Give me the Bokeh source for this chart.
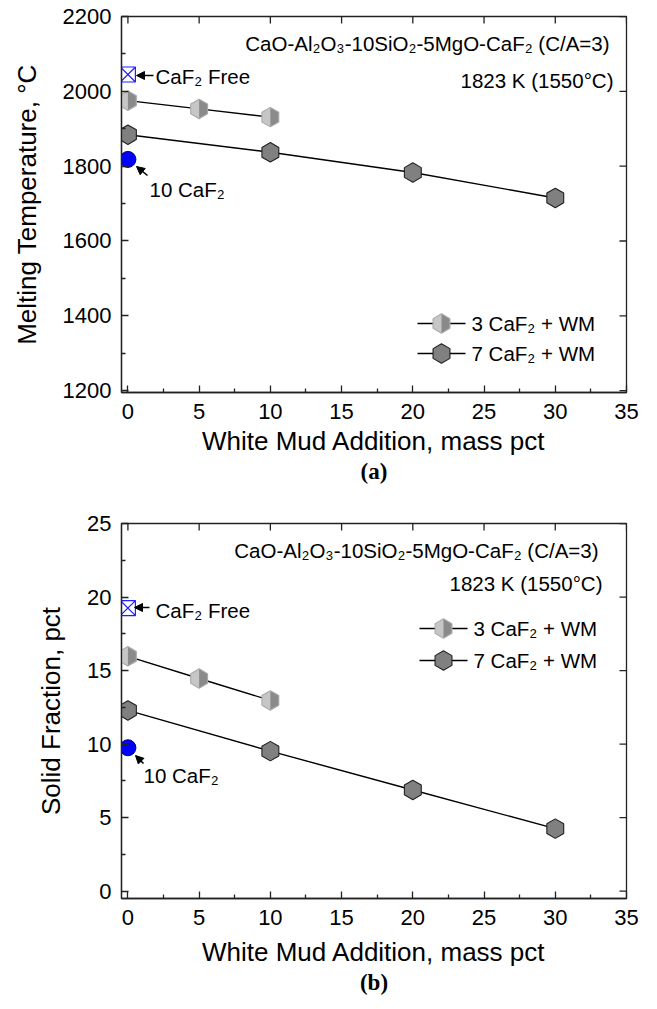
import math
from bokeh.plotting import figure
from bokeh.models import FixedTicker, Range1d, Label, Arrow, NormalHead, Title
from bokeh.layouts import column
from bokeh.embed import file_html
from bokeh.resources import INLINE

# ---------------- data ----------------
wm_3 = [0, 5, 10]
wm_7 = [0, 10, 20, 30]
wm_single = [0]

tm_3 = [1975, 1953, 1931]
tm_7 = [1884, 1837, 1783, 1715]
tm_free = [2045]
tm_10 = [1818]

sf_3 = [15.97, 14.46, 12.97]
sf_7 = [12.29, 9.52, 6.88, 4.25]
sf_free = [19.25]
sf_10 = [9.75]

x_ticks = [0, 5, 10, 15, 20, 25, 30, 35]
tm_ticks = [1200, 1400, 1600, 1800, 2000, 2200]
sf_ticks = [0, 5, 10, 15, 20, 25]

label_3 = "3 CaF\u2082 + WM"
label_7 = "7 CaF\u2082 + WM"
label_free = "CaF\u2082 Free"
label_10 = "10 CaF\u2082"
label_comp = "CaO-Al\u2082O\u2083-10SiO\u2082-5MgO-CaF\u2082 (C/A=3)"
label_temp = "1823 K (1550\u00b0C)"

# ---------------- style ----------------
FONT = "Liberation Sans"
AX_COLOR = "#222222"
LIGHT = "#c6c6c6"
LIGHT_EDGE = "#a9a9a9"
DARK = "#8a8a8a"
HEX7 = "#808080"
HEX_SIZE = 19.5
FRAME_L, FRAME_R = 121, 626
FRAME_W = FRAME_R - FRAME_L
X0, X1 = -0.45, 35.0


def minor_of(ticks):
    return [(a + b) / 2 for a, b in zip(ticks[:-1], ticks[1:])]


def make_fig(yr, yticks, ylabel, caption, top_px, frame_h, border_top,
             border_bottom, xlabel_standoff):
    p = figure(frame_width=FRAME_W, frame_height=frame_h,
               x_range=Range1d(X0, X1), y_range=Range1d(*yr),
               output_backend="svg", toolbar_location=None,
               min_border_left=FRAME_L, min_border_right=25,
               min_border_top=border_top, min_border_bottom=border_bottom,
               background_fill_color="white", border_fill_color="white")
    p.grid.visible = False
    p.outline_line_color = AX_COLOR
    p.outline_line_width = 1.3

    p.xaxis.ticker = FixedTicker(ticks=x_ticks, minor_ticks=minor_of(x_ticks))
    p.yaxis.ticker = FixedTicker(ticks=yticks, minor_ticks=minor_of(yticks))
    for ax in (p.xaxis[0], p.yaxis[0]):
        ax.major_tick_in = 7
        ax.major_tick_out = 0
        ax.minor_tick_in = 4
        ax.minor_tick_out = 0
        ax.axis_line_width = 1.3
        ax.major_tick_line_width = 1.3
        ax.minor_tick_line_width = 1.3
        ax.axis_line_color = AX_COLOR
        ax.major_tick_line_color = AX_COLOR
        ax.minor_tick_line_color = AX_COLOR
        ax.major_label_text_font = FONT
        ax.major_label_text_font_size = "22px"
        ax.major_label_text_color = "black"
        ax.axis_label_text_font = FONT
        ax.axis_label_text_font_size = "26px"
        ax.axis_label_text_font_style = "normal"
        ax.axis_label_text_color = "black"
    p.xaxis.axis_label = "White Mud Addition, mass pct"
    p.yaxis.axis_label = ylabel
    p.xaxis.major_label_standoff = 11
    p.xaxis.axis_label_standoff = xlabel_standoff
    p.yaxis.major_label_standoff = 10
    p.yaxis.axis_label_standoff = 18

    p.add_layout(Title(text=caption, align="center", vertical_align="top",
                       text_font="Liberation Serif", text_font_style="bold",
                       text_font_size="23px", text_color="black",
                       text_line_height=0.6, standoff=0, offset=-6), "below")

    y0, y1 = yr

    def dx(px):
        return X0 + (px - FRAME_L) / FRAME_W * (X1 - X0)

    def dy(py):
        return y1 - (py - top_px) / frame_h * (y1 - y0)

    sx = (X1 - X0) / FRAME_W
    sy = (y1 - y0) / frame_h

    # mirrored ticks on the top and right edges (inward only)
    p.scatter(x_ticks, [y1] * len(x_ticks), marker="dash", angle=math.pi / 2,
              size=14, line_color=AX_COLOR, line_width=1.3)
    p.scatter([X1] * len(yticks), yticks, marker="dash", size=14,
              line_color=AX_COLOR, line_width=1.3)
    return p, dx, dy, sx, sy


def half_hex(xs, ys, sx, sy, r):
    pxs, pys = [], []
    w = r * math.sqrt(3) / 2
    for x, y in zip(xs, ys):
        pxs.append([x, x + w * sx, x + w * sx, x])
        pys.append([y + r * sy, y + 0.5 * r * sy, y - 0.5 * r * sy, y - r * sy])
    return pxs, pys


def draw_panel(p, dx, dy, sx, sy, y3, y7, yfree, y10, pos):
    r = HEX_SIZE / 2
    # 7 CaF2 series
    p.line(wm_7, y7, line_color="black", line_width=1.4)
    p.scatter(wm_7, y7, marker="hex", angle=math.pi / 6, size=HEX_SIZE,
              fill_color=HEX7, line_color="#202020", line_width=1.1)
    # 3 CaF2 series
    p.line(wm_3, y3, line_color="black", line_width=1.4)
    p.scatter(wm_3, y3, marker="hex", angle=math.pi / 6, size=HEX_SIZE,
              fill_color=LIGHT, line_color=LIGHT_EDGE, line_width=1.1)
    hx, hy = half_hex(wm_3, y3, sx, sy, r - 0.6)
    p.patches(hx, hy, fill_color=DARK, line_color=None)
    # single points
    p.scatter(wm_single, yfree, marker="square_x", size=15,
              fill_color=None, line_color="#1f1fff", line_width=1.2)
    p.scatter(wm_single, y10, marker="circle", size=16,
              fill_color="#0000ff", line_color="#000066", line_width=1)

    def lbl(px, py, text, align="left"):
        p.add_layout(Label(x=dx(px), y=dy(py), text=text, text_align=align,
                           text_baseline="middle", text_font=FONT,
                           text_font_size="20.5px", text_color="black"))

    def arrow(x0, y0_, x1, y1_):
        p.add_layout(Arrow(end=NormalHead(size=8, fill_color="black",
                                          line_color="black"),
                           x_start=dx(x0), y_start=dy(y0_),
                           x_end=dx(x1), y_end=dy(y1_),
                           line_width=1.6, line_color="black"))

    lbl(pos["comp"][0], pos["comp"][1], label_comp, "right")
    lbl(pos["temp"][0], pos["temp"][1], label_temp, "right")
    lbl(pos["free_t"][0], pos["free_t"][1], label_free)
    arrow(*pos["free_a"])
    lbl(pos["ten_t"][0], pos["ten_t"][1], label_10)
    arrow(*pos["ten_a"])

    # legend (drawn manually so the half-filled marker can be shown)
    lx0, lx1, lhx, ltx, ly3, ly7 = pos["legend"]
    for ly, txt, kind in ((ly3, label_3, 3), (ly7, label_7, 7)):
        p.line([dx(lx0), dx(lx1)], [dy(ly), dy(ly)], line_color="black",
               line_width=1.4)
        if kind == 3:
            p.scatter([dx(lhx)], [dy(ly)], marker="hex", angle=math.pi / 6,
                      size=HEX_SIZE, fill_color=LIGHT, line_color=LIGHT_EDGE,
                      line_width=1.1)
            hx, hy = half_hex([dx(lhx)], [dy(ly)], sx, sy, r - 0.6)
            p.patches(hx, hy, fill_color=DARK, line_color=None)
        else:
            p.scatter([dx(lhx)], [dy(ly)], marker="hex", angle=math.pi / 6,
                      size=HEX_SIZE, fill_color=HEX7, line_color="#202020",
                      line_width=1.1)
        lbl(ltx, ly, txt)


# ---------------- panel (a) ----------------
TOP_A = 16
pa, dxa, dya, sxa, sya = make_fig((1195, 2200), tm_ticks,
                                  "Melting Temperature, \u00b0C", "(a)",
                                  TOP_A, 376, TOP_A, 115, 4)
draw_panel(pa, dxa, dya, sxa, sya, tm_3, tm_7, tm_free, tm_10, {
    "comp": (609, 43), "temp": (613, 80),
    "free_t": (155, 76), "free_a": (153, 75, 136, 75),
    "ten_t": (149, 189), "ten_a": (147, 175, 136, 166),
    "legend": (417, 465, 441, 471, 323, 353),
})

# ---------------- panel (b) ----------------
TOP_B = 523
pb, dxb, dyb, sxb, syb = make_fig((-0.5, 25), sf_ticks,
                                  "Solid Fraction, pct", "(b)",
                                  TOP_B, 375, TOP_B - 507, 100, 9)
draw_panel(pb, dxb, dyb, sxb, syb, sf_3, sf_7, sf_free, sf_10, {
    "comp": (598, 550), "temp": (602, 583),
    "free_t": (155, 610), "free_a": (149, 607, 134, 607),
    "ten_t": (143, 775), "ten_a": (143, 763, 135, 755),
    "legend": (419, 467, 443, 473, 628, 660),
})

layout = column(pa, pb, spacing=0)
open("out.html", "w").write(file_html(layout, INLINE))
